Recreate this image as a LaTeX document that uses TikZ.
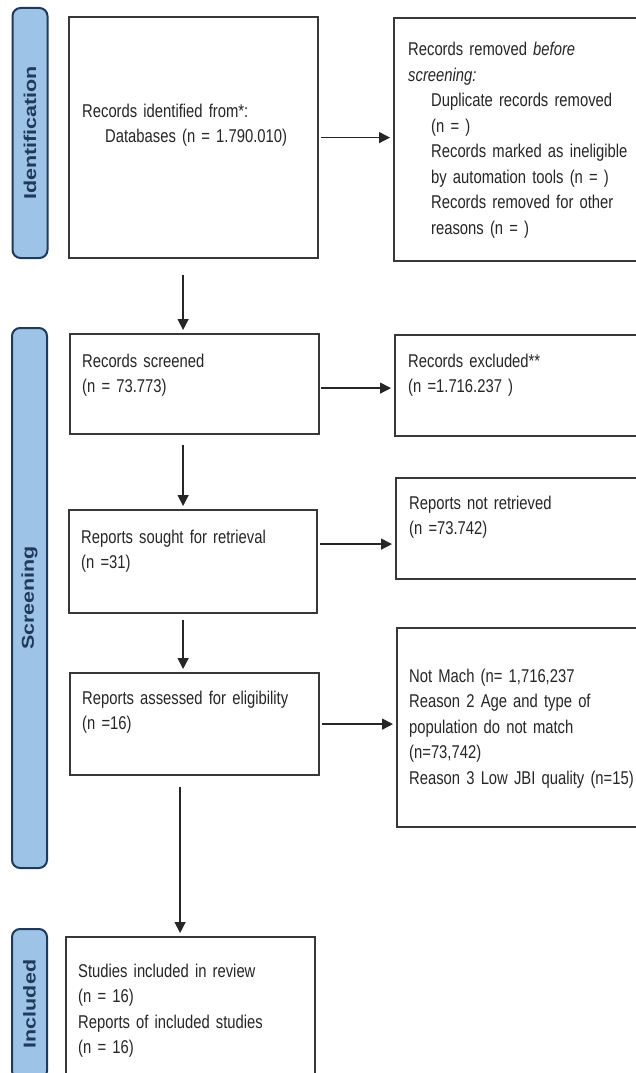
\documentclass[tikz,border=0pt]{standalone}
\usepackage{graphicx}
\usepackage{fontspec}
\setmainfont{Liberation Sans}[FakeStretch=0.8]
\newfontfamily\tabfont{Liberation Sans}
\usepackage{tikz}
\usetikzlibrary{arrows.meta}

\definecolor{tabblue}{HTML}{9DC3E6}
\definecolor{tabline}{HTML}{203A5C}
\definecolor{boxline}{HTML}{383838}
\definecolor{inkgray}{HTML}{262626}
\newcommand\tightspace{\spaceskip=4.2pt plus 1pt minus 1pt\relax}

\begin{document}
\begin{tikzpicture}[x=1pt,y=-1pt,
  box/.style={draw=boxline, line width=2.2pt, fill=white, anchor=north west, inner sep=0pt},
  txt/.style={anchor=base west, inner sep=0pt, text width=235pt, align=left, text=inkgray,
    font=\fontsize{18.5}{25.5}\selectfont\tightspace},
  tab/.style={draw=tabline, fill=tabblue, line width=2pt, rounded corners=8pt, rotate=90,
    minimum height=35pt, inner sep=0pt, text=tabline, font=\tabfont\bfseries\fontsize{21.5}{24}\selectfont},
  arr/.style={-{Triangle[length=11pt,width=11pt]}, line width=1.4pt, draw=black!85, shorten >=3pt},
]
\clip (0,0) rectangle (636,1073);
\useasboundingbox (0,0) rectangle (636,1073);

% phase tabs
\node[tab, minimum width=250pt] (idtab) at (30,133) {\scalebox{1}[0.8]{Identification}};
\node[tab, minimum width=540pt] (scrtab) at (29.5,598) {\scalebox{1}[0.8]{Screening}};
\node[tab, minimum width=150pt] (incltab) at (29.5,1004) {\scalebox{1}[0.8]{Included}};

% left column
\node[box, minimum width=249pt, minimum height=241pt] (ident) at (68,16) {};
\node[box, minimum width=249pt, minimum height=100pt] (scr) at (69,333) {};
\node[box, minimum width=248pt, minimum height=103pt] (sought) at (68,509) {};
\node[box, minimum width=249pt, minimum height=102pt] (assess) at (69,672) {};
\node[box, minimum width=249pt, minimum height=160pt] (incl) at (65,936) {};

% right column
\node[box, minimum width=260pt, minimum height=243pt] (removed) at (393,17) {};
\node[box, minimum width=260pt, minimum height=101pt] (excl) at (394,334) {};
\node[box, minimum width=260pt, minimum height=101pt] (notret) at (395,477) {};
\node[box, minimum width=260pt, minimum height=199pt] (reasons) at (396,627) {};

% texts
\node[txt] (identtxt) at (82,117) {Records identified from*:\\\hspace*{23pt}Databases (n = 1.790.010)};
\node[txt] (removedtxt) at (408,56) {Records removed \textit{before}\\\textit{screening:}\\
  \hspace*{23pt}Duplicate records removed\\\hspace*{23pt}(n = )\\
  \hspace*{23pt}Records marked as ineligible\\\hspace*{23pt}by automation tools (n = )\\
  \hspace*{23pt}Records removed for other\\\hspace*{23pt}reasons (n = )};
\node[txt] (scrtxt) at (82,367) {Records screened\\(n = 73.773)};
\node[txt] (excltxt) at (408,367) {Records excluded**\\(n =1.716.237 )};
\node[txt] (soughttxt) at (81,543) {Reports sought for retrieval\\(n =31)};
\node[txt] (notrettxt) at (409,509) {Reports not retrieved\\(n =73.742)};
\node[txt] (assesstxt) at (82,704) {Reports assessed for eligibility\\(n =16)};
\node[txt] (reasonstxt) at (409,682) {Not Mach (n= 1,716,237\\Reason 2 Age and type of\\
  population do not match\\(n=73,742)\\Reason 3 Low JBI quality (n=15)};
\node[txt] (incltxt) at (78,977) {Studies included in review\\(n = 16)\\Reports of included studies\\(n = 16)};

% arrows down
\draw[arr, shorten <=16pt] ([xshift=-10.5pt]ident.south) -- ([xshift=-10.5pt]ident.south |- scr.north);
\draw[arr, shorten <=10pt] ([xshift=-11.5pt]scr.south) -- ([xshift=-11.5pt]scr.south |- sought.north);
\draw[arr, shorten <=6pt] ([xshift=-10pt]sought.south) -- ([xshift=-10pt]sought.south |- assess.north);
\draw[arr, shorten <=11pt] ([xshift=-14.5pt]assess.south) -- ([xshift=-14.5pt]assess.south |- incl.north);

% arrows across
\draw[arr, shorten <=2pt] (ident.east) -- (ident.east -| removed.west);
\draw[arr, shorten <=1pt] ([yshift=-4pt]scr.east) -- ([yshift=-4pt]scr.east -| excl.west);
\draw[arr, shorten <=2pt] ([yshift=17.5pt]sought.east) -- ([yshift=17.5pt]sought.east -| notret.west);
\draw[arr, shorten <=2pt] (assess.east) -- (assess.east -| reasons.west);
\end{tikzpicture}
\end{document}
